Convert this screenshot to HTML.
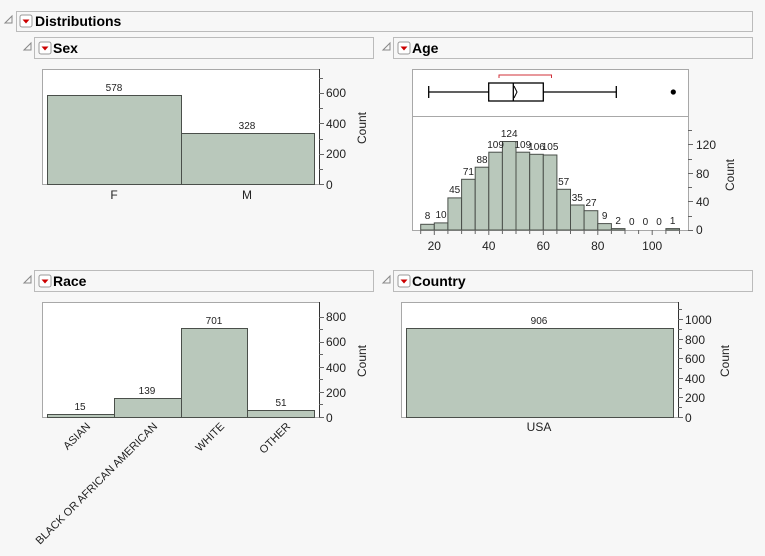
<!DOCTYPE html>
<html><head><meta charset="utf-8"><style>
html,body{margin:0;padding:0;background:#f7f7f7;}
svg{display:block;font-family:"Liberation Sans",sans-serif;}
.h{font-weight:bold;font-size:14px;fill:#000}
.t{font-size:12px;fill:#222}
.r{font-size:11px;fill:#222}
.s{font-size:10px;fill:#222}
.bar{fill:#b9c8bb;stroke:#4a4f4a;stroke-width:1}
.frame{fill:#fff;stroke:#a8a8a8;stroke-width:1}
.ax{stroke:#333;stroke-width:1}
.tk{stroke:#666;stroke-width:1}
</style></head><body>
<svg width="765" height="556" viewBox="0 0 765 556" xmlns="http://www.w3.org/2000/svg">
<rect x="0" y="0" width="765" height="556" fill="#f7f7f7"/>
<defs>
<g id="btn"><rect x="0" y="0" width="12" height="12" rx="2" fill="#fff" stroke="#999"/><path d="M2.5 4.5 L9.5 4.5 L6 8.5Z" fill="#c00"/></g>
<g id="tri"><path d="M0 7 L7 0 L7 7Z" fill="none" stroke="#888"/></g>
</defs>
<use href="#tri" x="5" y="16"/><rect x="16.5" y="11.5" width="736" height="20" fill="none" stroke="#bbb"/>
<use href="#btn" x="20" y="15"/><text class="h" x="35" y="26">Distributions</text>

<use href="#tri" x="24" y="43"/><rect x="34.5" y="37.5" width="339" height="21" fill="none" stroke="#bbb"/>
<use href="#btn" x="39" y="42"/><text class="h" x="53" y="53">Sex</text>
<use href="#tri" x="383" y="43"/><rect x="393.5" y="37.5" width="359" height="21" fill="none" stroke="#bbb"/>
<use href="#btn" x="398" y="42"/><text class="h" x="412" y="53">Age</text>
<use href="#tri" x="24" y="276"/><rect x="34.5" y="270.5" width="339" height="21" fill="none" stroke="#bbb"/>
<use href="#btn" x="39" y="275"/><text class="h" x="53" y="286">Race</text>
<use href="#tri" x="383" y="276"/><rect x="393.5" y="270.5" width="359" height="21" fill="none" stroke="#bbb"/>
<use href="#btn" x="398" y="275"/><text class="h" x="412" y="286">Country</text>

<!-- Sex -->
<rect class="frame" x="42.5" y="69.5" width="277" height="115"/>
<rect class="bar" x="47.5" y="95.5" width="134" height="89"/>
<rect class="bar" x="181.5" y="133.5" width="133" height="51"/>
<text class="s" x="114" y="91" text-anchor="middle">578</text>
<text class="s" x="247" y="129" text-anchor="middle">328</text>
<line class="ax" x1="319.5" y1="69" x2="319.5" y2="185"/>
<g class="tk"><line x1="319" y1="184.5" x2="324" y2="184.5"/><line x1="319" y1="169.5" x2="323" y2="169.5"/><line x1="319" y1="154.5" x2="324" y2="154.5"/><line x1="319" y1="139.5" x2="323" y2="139.5"/><line x1="319" y1="123.5" x2="324" y2="123.5"/><line x1="319" y1="108.5" x2="323" y2="108.5"/><line x1="319" y1="93.5" x2="324" y2="93.5"/><line x1="319" y1="78.5" x2="323" y2="78.5"/></g>
<text class="t" x="326" y="189">0</text><text class="t" x="326" y="158">200</text><text class="t" x="326" y="128">400</text><text class="t" x="326" y="97">600</text>
<text class="t" transform="translate(366,128) rotate(-90)" text-anchor="middle">Count</text>
<text class="t" x="114" y="199" text-anchor="middle">F</text>
<text class="t" x="247" y="199" text-anchor="middle">M</text>

<!-- Age -->
<rect class="frame" x="412.5" y="69.5" width="276" height="161"/>
<line x1="412" y1="116.5" x2="688" y2="116.5" stroke="#a8a8a8"/>
<path d="M499 78 V75 H551.5 V78" fill="none" stroke="#d0303a"/>
<g stroke="#000" stroke-width="1.3" fill="none">
<line x1="428.7" y1="86" x2="428.7" y2="98"/><line x1="428.7" y1="92" x2="488.7" y2="92"/>
<rect x="488.7" y="83" width="54.6" height="18"/><line x1="513.3" y1="83" x2="513.3" y2="101"/>
<line x1="543.3" y1="92" x2="616.3" y2="92"/><line x1="616.3" y1="86" x2="616.3" y2="98"/>
<path d="M514 86 L517 92 L514 98" stroke-width="1"/>
</g>
<circle cx="673.3" cy="92" r="2.6" fill="#000"/>
<g class="bar">
<rect x="420.7" y="224.3" width="13.6" height="5.7"/><rect x="434.3" y="222.9" width="13.6" height="7.1"/>
<rect x="447.9" y="197.9" width="13.7" height="32.1"/><rect x="461.6" y="179.3" width="13.6" height="50.7"/>
<rect x="475.2" y="167.2" width="13.6" height="62.8"/><rect x="488.8" y="152.2" width="13.6" height="77.8"/>
<rect x="502.4" y="141.5" width="13.6" height="88.5"/><rect x="516" y="152.2" width="13.7" height="77.8"/>
<rect x="529.7" y="154.3" width="13.6" height="75.7"/><rect x="543.3" y="155" width="13.6" height="75"/>
<rect x="556.9" y="189.3" width="13.6" height="40.7"/><rect x="570.5" y="205" width="13.6" height="25"/>
<rect x="584.1" y="210.7" width="13.7" height="19.3"/><rect x="597.8" y="223.6" width="13.6" height="6.4"/>
<rect x="611.4" y="228.6" width="13.6" height="1.4"/><rect x="665.9" y="228.6" width="13.6" height="1.4"/>
</g>
<g class="s" text-anchor="middle">
<text x="427.5" y="219">8</text><text x="441" y="218">10</text><text x="454.7" y="193">45</text><text x="468.4" y="175">71</text>
<text x="482" y="163">88</text><text x="495.6" y="148">109</text><text x="509.2" y="137">124</text><text x="522.8" y="148">109</text>
<text x="536.5" y="150">106</text><text x="550.1" y="150">105</text><text x="563.7" y="185">57</text><text x="577.3" y="201">35</text>
<text x="591" y="206">27</text><text x="604.6" y="219">9</text><text x="618.2" y="224">2</text><text x="631.8" y="225">0</text>
<text x="645.4" y="225">0</text><text x="659" y="225">0</text><text x="672.7" y="224">1</text>
</g>
<g class="tk">
<line x1="420.7" y1="230" x2="420.7" y2="234"/><line x1="434.3" y1="230" x2="434.3" y2="235"/><line x1="447.9" y1="230" x2="447.9" y2="234"/><line x1="461.6" y1="230" x2="461.6" y2="234"/><line x1="475.2" y1="230" x2="475.2" y2="234"/><line x1="488.8" y1="230" x2="488.8" y2="235"/><line x1="502.4" y1="230" x2="502.4" y2="234"/><line x1="516" y1="230" x2="516" y2="234"/><line x1="529.7" y1="230" x2="529.7" y2="234"/><line x1="543.3" y1="230" x2="543.3" y2="235"/><line x1="556.9" y1="230" x2="556.9" y2="234"/><line x1="570.5" y1="230" x2="570.5" y2="234"/><line x1="584.1" y1="230" x2="584.1" y2="234"/><line x1="597.8" y1="230" x2="597.8" y2="235"/><line x1="611.4" y1="230" x2="611.4" y2="234"/><line x1="625" y1="230" x2="625" y2="234"/><line x1="638.6" y1="230" x2="638.6" y2="234"/><line x1="652.2" y1="230" x2="652.2" y2="235"/><line x1="665.9" y1="230" x2="665.9" y2="234"/><line x1="679.5" y1="230" x2="679.5" y2="234"/>
<line x1="688" y1="230.5" x2="693" y2="230.5"/><line x1="688" y1="216.5" x2="692" y2="216.5"/><line x1="688" y1="201.5" x2="693" y2="201.5"/><line x1="688" y1="187.5" x2="692" y2="187.5"/><line x1="688" y1="173.5" x2="693" y2="173.5"/><line x1="688" y1="159.5" x2="692" y2="159.5"/><line x1="688" y1="144.5" x2="693" y2="144.5"/><line x1="688" y1="130.5" x2="692" y2="130.5"/>
</g>
<g class="t" text-anchor="middle">
<text x="434.3" y="250">20</text><text x="488.8" y="250">40</text><text x="543.3" y="250">60</text><text x="597.8" y="250">80</text><text x="652.2" y="250">100</text>
</g>
<text class="t" x="696" y="234">0</text><text class="t" x="696" y="206">40</text><text class="t" x="696" y="178">80</text><text class="t" x="696" y="149">120</text>
<text class="t" transform="translate(734,175) rotate(-90)" text-anchor="middle">Count</text>

<!-- Race -->
<rect class="frame" x="42.5" y="302.5" width="277" height="115"/>
<rect class="bar" x="47.5" y="414.5" width="67" height="3"/>
<rect class="bar" x="114.5" y="398.5" width="67" height="19"/>
<rect class="bar" x="181.5" y="328.5" width="66" height="89"/>
<rect class="bar" x="247.5" y="410.5" width="67" height="7"/>
<g class="s" text-anchor="middle"><text x="80" y="410">15</text><text x="147" y="394">139</text><text x="214" y="324">701</text><text x="281" y="406">51</text></g>
<line class="ax" x1="319.5" y1="302" x2="319.5" y2="418"/>
<g class="tk"><line x1="319" y1="417.5" x2="324" y2="417.5"/><line x1="319" y1="404.5" x2="323" y2="404.5"/><line x1="319" y1="392.5" x2="324" y2="392.5"/><line x1="319" y1="379.5" x2="323" y2="379.5"/><line x1="319" y1="367.5" x2="324" y2="367.5"/><line x1="319" y1="354.5" x2="323" y2="354.5"/><line x1="319" y1="342.5" x2="324" y2="342.5"/><line x1="319" y1="329.5" x2="323" y2="329.5"/><line x1="319" y1="317.5" x2="324" y2="317.5"/></g>
<text class="t" x="326" y="422">0</text><text class="t" x="326" y="397">200</text><text class="t" x="326" y="372">400</text><text class="t" x="326" y="346">600</text><text class="t" x="326" y="321">800</text>
<text class="t" transform="translate(366,361) rotate(-90)" text-anchor="middle">Count</text>
<g class="r" text-anchor="end">
<text transform="translate(91,427) rotate(-45)">ASIAN</text>
<text transform="translate(158,427) rotate(-45)">BLACK OR AFRICAN AMERICAN</text>
<text transform="translate(225,427) rotate(-45)">WHITE</text>
<text transform="translate(291,427) rotate(-45)">OTHER</text>
</g>

<!-- Country -->
<rect class="frame" x="401.5" y="302.5" width="277" height="115"/>
<rect class="bar" x="406.5" y="328.5" width="267" height="89"/>
<text class="s" x="539" y="324" text-anchor="middle">906</text>
<line class="ax" x1="678.5" y1="302" x2="678.5" y2="418"/>
<g class="tk"><line x1="678" y1="417.5" x2="683" y2="417.5"/><line x1="678" y1="407.5" x2="682" y2="407.5"/><line x1="678" y1="397.5" x2="683" y2="397.5"/><line x1="678" y1="388.5" x2="682" y2="388.5"/><line x1="678" y1="378.5" x2="683" y2="378.5"/><line x1="678" y1="368.5" x2="682" y2="368.5"/><line x1="678" y1="358.5" x2="683" y2="358.5"/><line x1="678" y1="348.5" x2="682" y2="348.5"/><line x1="678" y1="339.5" x2="683" y2="339.5"/><line x1="678" y1="329.5" x2="682" y2="329.5"/><line x1="678" y1="319.5" x2="683" y2="319.5"/><line x1="678" y1="309.5" x2="682" y2="309.5"/></g>
<text class="t" x="685" y="422">0</text><text class="t" x="685" y="402">200</text><text class="t" x="685" y="383">400</text><text class="t" x="685" y="363">600</text><text class="t" x="685" y="344">800</text><text class="t" x="685" y="324">1000</text>
<text class="t" transform="translate(729,361) rotate(-90)" text-anchor="middle">Count</text>
<text class="t" x="539" y="431" text-anchor="middle">USA</text>
</svg>
</body></html>
